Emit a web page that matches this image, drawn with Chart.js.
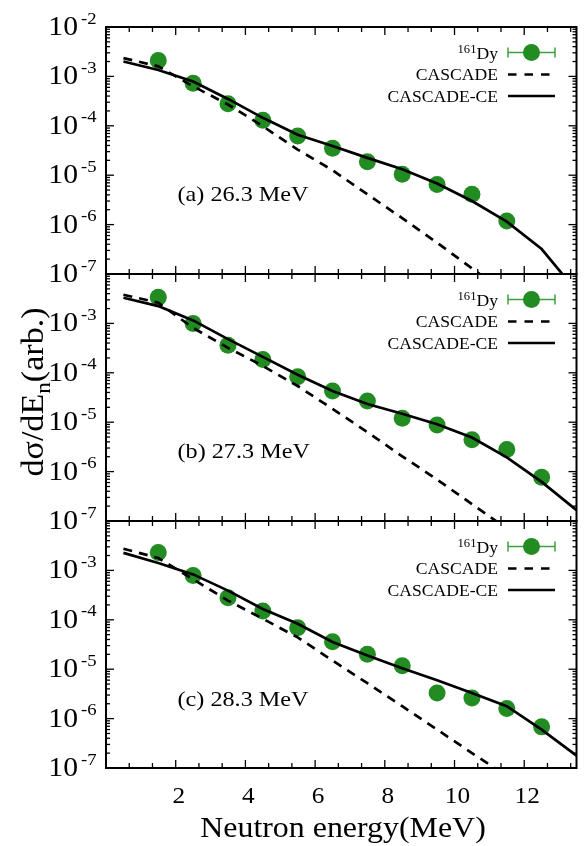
<!DOCTYPE html>
<html>
<head>
<meta charset="utf-8">
<script src="https://cdn.jsdelivr.net/npm/chart.js@4.4.1/dist/chart.umd.min.js"></script>
<style>
  body { margin: 0; background: #fff; }
  #wrap { position: relative; width: 585px; height: 846px; }
  canvas { position: absolute; left: 0; }
</style>
</head>
<body>
<div id="wrap">
  <canvas id="pa" width="585" height="290" style="top:0px"></canvas>
  <canvas id="pb" width="585" height="282" style="top:260px"></canvas>
  <canvas id="pc" width="585" height="340" style="top:506px"></canvas>
</div>
<script>
// measured energies (MeV) and model grid
const expE = [1.5, 2.5, 3.5, 4.5, 5.5, 6.5, 7.5, 8.5, 9.5, 10.5, 11.5, 12.5];
const modelE = [0.5, 1.5, 2.5, 3.5, 4.5, 5.5, 6.5, 7.5, 8.5, 9.5, 10.5, 11.5, 12.5, 13.5];
const xTicks = [2, 4, 6, 8, 10, 12];

// (a) 26.3 MeV
const expA = [2.1e-3, 7.3e-4, 2.8e-4, 1.3e-4, 6.2e-5, 3.5e-5, 1.87e-5, 1.05e-5, 6.5e-6, 4.1e-6, 1.18e-6];
const casA = [2.35e-3, 1.6e-3, 6.3e-4, 2.7e-4, 9.8e-5, 3.3e-5, 1.26e-5, 4.1e-6, 1.35e-6, 4.3e-7, 1.3e-7, 4e-8, 1.3e-8, 4e-9];
const ceA = [2.0e-3, 1.35e-3, 7.9e-4, 3.5e-4, 1.45e-4, 6.6e-5, 3.9e-5, 2.24e-5, 1.32e-5, 6.8e-6, 3.0e-6, 1.15e-6, 3.2e-7, 4.5e-8];

// (b) 27.3 MeV
const expB = [3.4e-3, 1.0e-3, 3.6e-4, 1.85e-4, 8.3e-5, 4.3e-5, 2.7e-5, 1.2e-5, 8.8e-6, 4.4e-6, 2.8e-6, 7.7e-7];
const casB = [3.8e-3, 2.63e-3, 8.1e-4, 3.2e-4, 1.38e-4, 5.4e-5, 1.86e-5, 6.3e-6, 2.04e-6, 6.9e-7, 2.2e-7, 7e-8, 2.2e-8, 7e-9];
const ceB = [3.3e-3, 2.24e-3, 1.15e-3, 4.8e-4, 2.1e-4, 9.1e-5, 4.3e-5, 2.34e-5, 1.48e-5, 9.1e-6, 4.9e-6, 1.95e-6, 6.2e-7, 1.66e-7];

// (c) 28.3 MeV
const expC = [2.3e-3, 7.9e-4, 2.8e-4, 1.5e-4, 6.9e-5, 3.6e-5, 2.0e-5, 1.18e-5, 3.3e-6, 2.6e-6, 1.6e-6, 6.8e-7];
const casC = [2.75e-3, 1.78e-3, 6.6e-4, 2.45e-4, 1.05e-4, 4.4e-5, 1.5e-5, 5.2e-6, 1.78e-6, 6.0e-7, 2.0e-7, 6.9e-8, 2.3e-8, 8e-9];
const ceC = [2.26e-3, 1.41e-3, 8.3e-4, 3.9e-4, 1.66e-4, 8.3e-5, 3.55e-5, 1.9e-5, 1.05e-5, 6.0e-6, 3.3e-6, 1.78e-6, 6.0e-7, 1.78e-7];

const GREEN = 'rgb(34,139,34)';
const SX = 1.1; // text in the figure is slightly wide
const FONT = '"Liberation Serif", "Times New Roman", serif';

function txt(ctx, s, x, y, size, align) {
  ctx.save();
  ctx.font = size + 'px ' + FONT;
  ctx.textBaseline = 'alphabetic';
  const w = ctx.measureText(s).width * SX;
  const x0 = align === 'right' ? x - w : align === 'center' ? x - w / 2 : x;
  ctx.translate(x0, y);
  ctx.scale(SX, 1);
  ctx.fillStyle = '#000';
  ctx.fillText(s, 0, 0);
  ctx.restore();
  return w;
}
function seg(ctx, x1, y1, x2, y2) {
  ctx.beginPath(); ctx.moveTo(x1, y1); ctx.lineTo(x2, y2); ctx.stroke();
}
function pts(xs, ys) { return ys.map((v, i) => ({ x: xs[i], y: v })); }

function makePanel(id, exp, cas, ce, cfg) {
  const decor = {
    id: 'decor' + id,
    afterDatasetsDraw(chart) {
      const ctx = chart.ctx, a = chart.chartArea;
      const xs = chart.scales.x, ys = chart.scales.y;
      ctx.save();
      ctx.strokeStyle = '#000';
      ctx.lineWidth = 1.3;
      // x ticks every 2/3 MeV, inward on top and bottom
      for (let k = 1; k * 2 / 3 < 13.5; k++) {
        const px = xs.getPixelForValue(k * 2 / 3);
        const len = k % 3 === 0 ? 8 : 5;
        seg(ctx, px, a.bottom, px, a.bottom - len);
        seg(ctx, px, a.top, px, a.top + len);
      }
      // y ticks, log decades, inward on left and right
      for (let e = -7; e <= -2; e++) {
        for (let m = 1; m <= 9; m++) {
          if (e === -2 && m > 1) break;
          const py = ys.getPixelForValue(m * Math.pow(10, e));
          const len = m === 1 ? 8 : 4;
          seg(ctx, a.left, py, a.left + len, py);
          seg(ctx, a.right, py, a.right - len, py);
        }
      }
      ctx.lineWidth = 2;
      ctx.strokeRect(a.left, a.top, a.right - a.left, a.bottom - a.top);

      // y tick labels 10^e
      for (let e = -7; e <= cfg.topExp; e++) {
        const py = ys.getPixelForValue(Math.pow(10, e));
        txt(ctx, '10', 78, py + 8, 27, 'right');
        txt(ctx, String(e), 81, py - 3.5, 17, 'left');
      }

      // panel label
      txt(ctx, cfg.label, 177.5, cfg.labelY, 22, 'left');

      // legend
      const rows = [a.top + 25.5, a.top + 47.5, a.top + 69];
      const tx = 498, l1 = 508, l2 = 555;
      const w = txt(ctx, 'Dy', tx, rows[0] + 6.5, 16, 'right');
      txt(ctx, '161', tx - w, rows[0] + 0.5, 11.5, 'right');
      txt(ctx, 'CASCADE', tx, rows[1] + 5.5, 16, 'right');
      txt(ctx, 'CASCADE-CE', tx, rows[2] + 5.5, 16, 'right');
      ctx.strokeStyle = 'rgb(60,160,60)';
      ctx.lineWidth = 1.5;
      seg(ctx, l1, rows[0], l2, rows[0]);
      seg(ctx, l1, rows[0] - 5, l1, rows[0] + 5);
      seg(ctx, l2, rows[0] - 5, l2, rows[0] + 5);
      ctx.fillStyle = GREEN;
      ctx.beginPath(); ctx.arc((l1 + l2) / 2, rows[0], 8.5, 0, Math.PI * 2); ctx.fill();
      ctx.strokeStyle = '#000';
      ctx.lineWidth = 2.7;
      ctx.setLineDash([8.5, 8]);
      seg(ctx, l1, rows[1], l2, rows[1]);
      ctx.setLineDash([]);
      seg(ctx, l1, rows[2], l2, rows[2]);

      // x axis labels and title (bottom panel only)
      if (cfg.xLabels) {
        xTicks.forEach(v => txt(ctx, String(v), xs.getPixelForValue(v) + 3, a.bottom + 35, 23, 'center'));
        txt(ctx, 'Neutron energy(MeV)', 343, a.bottom + 69, 29, 'center');
      }
      // y axis title (middle panel only)
      if (cfg.yTitle) {
        ctx.save();
        ctx.translate(43, cfg.yTitle);
        ctx.rotate(-Math.PI / 2);
        const parts = [['dσ/dE', 31, 0], ['n', 21, 7], ['(arb.)', 31, 0]];
        let total = 0;
        parts.forEach(p => { ctx.font = p[1] + 'px ' + FONT; total += ctx.measureText(p[0]).width * SX; });
        let cx = -total / 2;
        parts.forEach(p => { cx += txt(ctx, p[0], cx, p[2], p[1], 'left'); });
        ctx.restore();
      }
      ctx.restore();
    }
  };

  return new Chart(document.getElementById(id), {
    type: 'line',
    data: {
      datasets: [
        { data: pts(modelE, ce), borderColor: '#000', borderWidth: 2.7, pointRadius: 0, tension: 0, order: 0 },
        { data: pts(modelE, cas), borderColor: '#000', borderWidth: 2.7, borderDash: [9, 7], pointRadius: 0, tension: 0, order: 1 },
        { data: pts(expE, exp), showLine: false, pointRadius: 8.5, pointBackgroundColor: GREEN, pointBorderWidth: 0, order: 2 }
      ]
    },
    options: {
      responsive: false,
      animation: false,
      events: [],
      layout: { padding: cfg.pad },
      plugins: { legend: { display: false }, tooltip: { enabled: false } },
      scales: {
        x: { type: 'linear', min: 0, max: 13.5, display: false },
        y: { type: 'logarithmic', min: 1e-7, max: 1e-2, display: false }
      }
    },
    plugins: [decor]
  });
}

makePanel('pa', expA, casA, ceA, {
  label: '(a) 26.3 MeV', labelY: 200.5, topExp: -2,
  pad: { left: 106, right: 3, top: 27, bottom: 16 }
});
makePanel('pb', expB, casB, ceB, {
  label: '(b) 27.3 MeV', labelY: 198, topExp: -3, yTitle: 132,
  pad: { left: 106, right: 3, top: 14, bottom: 21 }
});
makePanel('pc', expC, casC, ceC, {
  label: '(c) 28.3 MeV', labelY: 200, topExp: -3, xLabels: true,
  pad: { left: 106, right: 3, top: 15, bottom: 78 }
});
</script>
</body>
</html>
